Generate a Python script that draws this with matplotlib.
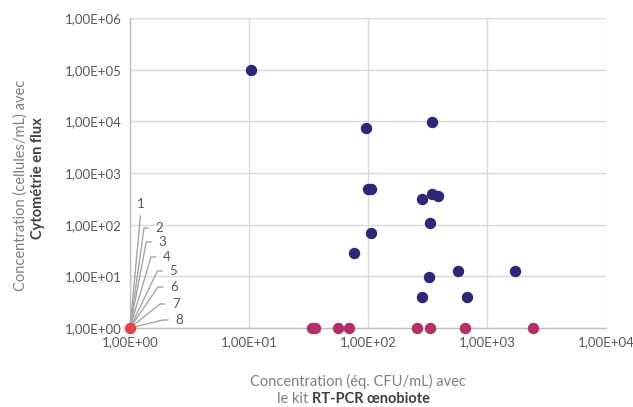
import math
import matplotlib
matplotlib.use("Agg")
import matplotlib.pyplot as plt
from matplotlib.ticker import FixedLocator, FuncFormatter, NullLocator

# Données (x: RT-PCR, y: cytométrie)
bleu_x = [10.4, 96, 345, 100, 106, 283, 345, 385, 330, 105, 77, 567, 325, 285, 1720, 680]
bleu_y = [1.0e5, 7400, 9700, 490, 500, 314, 390, 355, 106, 68, 28, 12.5, 9.8, 4.0, 12.7, 4.0]

rose_x = [33.6, 35.9, 55.6, 68.8, 258, 332, 657, 2420]
rose_y = [1, 1, 1, 1, 1, 1, 1, 1]

rouge_x = [1]
rouge_y = [1]

etiquettes = ["1", "2", "3", "4", "5", "6", "7", "8"]

# couleurs
c_bleu = "#2b2878"
c_rose = "#b23067"
c_rouge = "#e8434b"
c_grille = "#d9d9d9"
c_texte = "#595959"

fig = plt.figure(figsize=(6.33, 4.07), dpi=100)
ax = fig.add_axes([130 / 633, 79 / 407, 476 / 633, 310 / 407])

ax.set_xscale("log")
ax.set_yscale("log")
ax.set_xlim(1, 1e4)
ax.set_ylim(1, 1e6)

ax.xaxis.set_major_locator(FixedLocator([1, 10, 100, 1000, 10000]))
ax.yaxis.set_major_locator(FixedLocator([1, 10, 100, 1e3, 1e4, 1e5, 1e6]))
ax.xaxis.set_minor_locator(NullLocator())
ax.yaxis.set_minor_locator(NullLocator())
fmt = FuncFormatter(lambda v, p: "1,00E+%02d" % round(math.log10(v)))
ax.xaxis.set_major_formatter(fmt)
ax.yaxis.set_major_formatter(fmt)
ax.tick_params(length=0, labelsize=9.5, colors=c_texte, pad=6)
for lab in ax.get_xticklabels() + ax.get_yticklabels():
    lab.set_family("Lato")

ax.grid(True, color=c_grille, linewidth=1)
ax.set_axisbelow(True)
for s in ["top", "right"]:
    ax.spines[s].set_visible(False)
for s in ["left", "bottom"]:
    ax.spines[s].set_color("#bfbfbf")
    ax.spines[s].set_linewidth(1)

ax.scatter(bleu_x, bleu_y, s=52, color=c_bleu, zorder=3, clip_on=False)
ax.scatter(rose_x, rose_y, s=52, color=c_rose, zorder=3, clip_on=False)
ax.scatter(rouge_x, rouge_y, s=52, color=c_rouge, zorder=4, clip_on=False)

# étiquettes 1..8 avec lignes de rappel (décalages en pixels)
coude = [(11, 114), (14, 100), (16, 85), (21, 71), (27, 56), (28, 41), (30, 24), (33, 8)]
pos_txt = [(11, 118), (25, 100), (28, 86), (33, 71), (39, 57), (40, 41), (42, 24), (45, 8)]
for i, lab in enumerate(etiquettes):
    dx, dy = coude[i]
    tx, ty = pos_txt[i]
    ang = math.degrees(math.atan2(dy, dx))
    if i == 0:
        ax.annotate(lab, xy=(rouge_x[0], rouge_y[0]), xytext=(tx, ty),
                    textcoords="offset pixels", ha="center", va="bottom",
                    fontsize=9.5, color=c_texte, family="Lato",
                    arrowprops=dict(arrowstyle="-", color="#a6a6a6", lw=1,
                                    shrinkA=2, shrinkB=0, relpos=(0.5, 0)))
    else:
        ax.annotate(lab, xy=(rouge_x[0], rouge_y[0]), xytext=(tx, ty),
                    textcoords="offset pixels", ha="left", va="center",
                    fontsize=9.5, color=c_texte, family="Lato",
                    arrowprops=dict(arrowstyle="-", color="#a6a6a6", lw=1,
                                    shrinkA=3, shrinkB=0, relpos=(0, 0.5),
                                    connectionstyle="angle,angleA=0,angleB=%.1f,rad=0" % ang))

# titres des axes
fig.text(21 / 633, 1 - 185 / 407, "Concentration (cellules/mL) avec", rotation=90,
         ha="center", va="center", fontsize=10.5, color="#7f7f7f", family="Lato")
fig.text(38 / 633, 1 - 178 / 407, "Cytométrie en flux", rotation=90,
         ha="center", va="center", fontsize=10.5, color="#404040",
         family="Lato", fontweight="bold")
fig.text(358 / 633, 1 - 381 / 407, "Concentration (éq. CFU/mL) avec",
         ha="center", va="center", fontsize=10.5, color="#7f7f7f", family="Lato")
fig.text(308 / 633, 1 - 399 / 407, "le kit", ha="right", va="center",
         fontsize=10.5, color="#7f7f7f", family="Lato")
fig.text(312 / 633, 1 - 399 / 407, "RT-PCR œnobiote", ha="left", va="center",
         fontsize=10.5, color="#404040", family="Lato", fontweight="bold")

fig.savefig("out.png", dpi=100)
